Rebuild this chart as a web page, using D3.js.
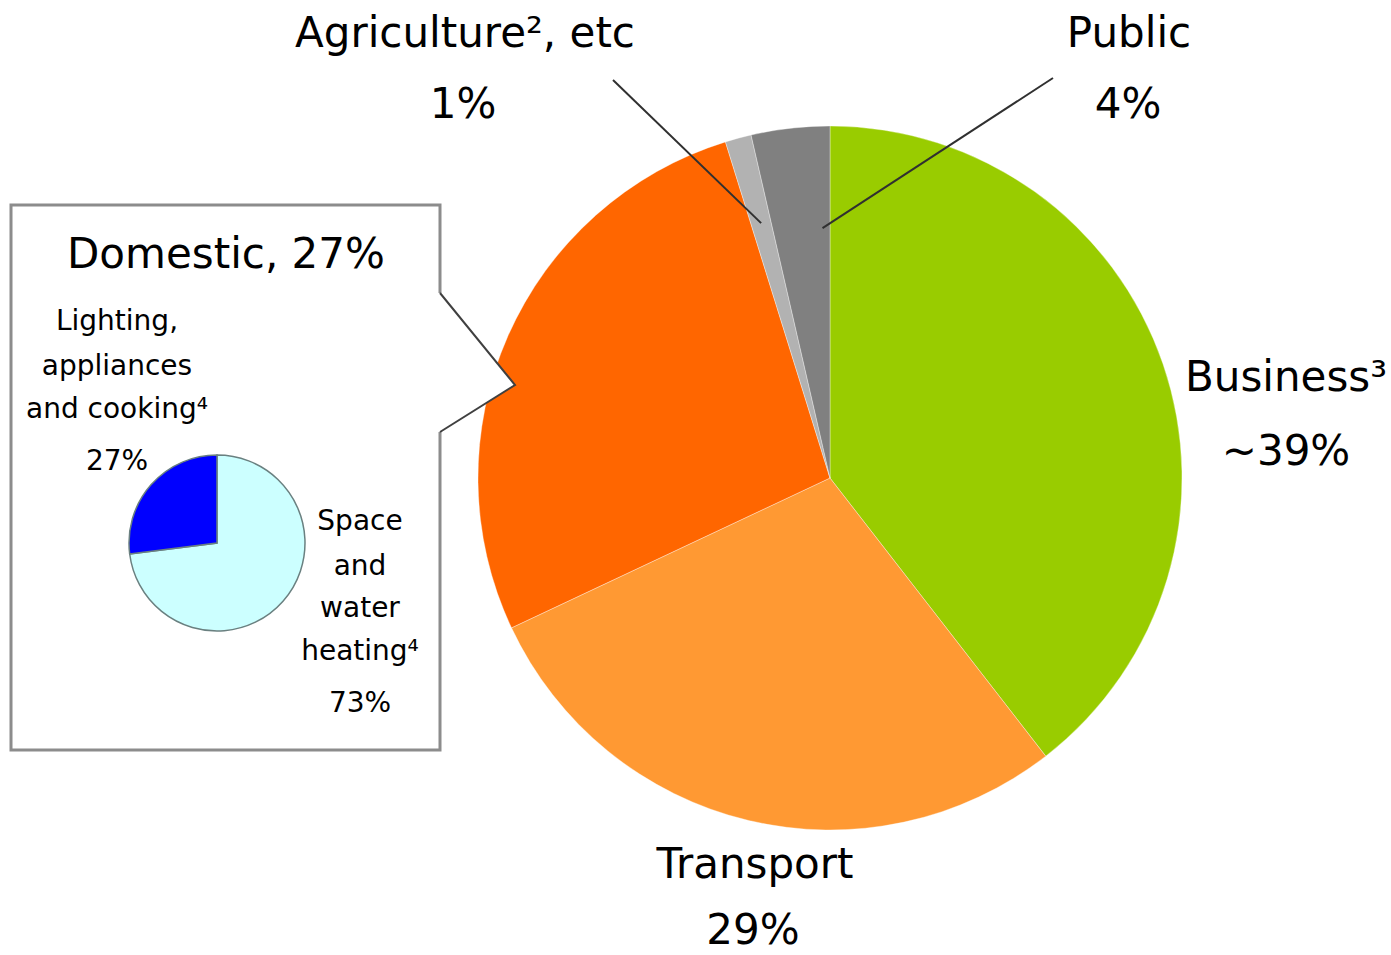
<html>
<style>
  body { margin: 0; background: #fff; font-family: "DejaVu Sans", Verdana, sans-serif; }
  .big { font-size: 42px; fill: #000; }
  .small { font-size: 28px; fill: #000; }
</style>
<script src="https://d3js.org/d3.v7.min.js"></script>
<body>
<svg id="chart" width="1391" height="955"></svg>
</body>
<script>
  // main pie: sectors clockwise from 12 o'clock
  const sectors = ["Business", "Transport", "Domestic", "Agriculture", "Public"];
  const shares = [39.5, 28.5, 27.2, 1.2, 3.6];
  const sectorColors = ["#99cc00", "#ff9933", "#ff6600", "#b2b2b2", "#808080"];
  const sectorLabels = [["Business³", "~39%"], ["Transport", "29%"], ["Domestic, 27%"],
                        ["Agriculture², etc", "1%"], ["Public", "4%"]];

  // domestic breakdown
  const uses = ["Space and water heating", "Lighting, appliances and cooking"];
  const useShares = [73, 27];
  const useColors = ["#ccffff", "#0000ff"];
  const useLabels = [["Space", "and", "water", "heating⁴", "73%"],
                     ["Lighting,", "appliances", "and cooking⁴", "27%"]];

  const svg = d3.select("#chart");

  // ---- main pie ----
  const cx = 830, cy = 478, r = 352;
  const pie = d3.pie().sort(null).value(d => d);
  const arcs = pie(shares);
  const arc = d3.arc().innerRadius(0).outerRadius(r);
  const g = svg.append("g").attr("transform", `translate(${cx},${cy})`);
  g.selectAll("path").data(arcs).enter().append("path")
      .attr("d", arc)
      .attr("fill", (d, i) => sectorColors[i])
      .attr("stroke", "#ffffff")
      .attr("stroke-opacity", 0.35)
      .attr("stroke-width", 1);

  // leader lines for the two thin slices
  function pt(a, rad) { return [cx + rad * Math.sin(a), cy - rad * Math.cos(a)]; }
  const agri = arcs[3], pub = arcs[4];
  const agriIn = pt((agri.startAngle + agri.endAngle) / 2, r * 0.75);
  const pubIn = pt(pub.endAngle - 0.03, r * 0.71);
  svg.append("line").attr("x1", 613).attr("y1", 80).attr("x2", agriIn[0]).attr("y2", agriIn[1])
      .attr("stroke", "#303030").attr("stroke-width", 2);
  svg.append("line").attr("x1", 1053).attr("y1", 78).attr("x2", pubIn[0]).attr("y2", pubIn[1])
      .attr("stroke", "#303030").attr("stroke-width", 2);

  // labels
  const labelPos = [[1286, 391, 1286, 465], [755, 878, 753, 944], null,
                    [465, 47, 463, 118], [1129, 47, 1128, 118]];
  labelPos.forEach((p, i) => {
    if (!p) return;
    svg.append("text").attr("class", "big").attr("text-anchor", "middle")
        .attr("x", p[0]).attr("y", p[1]).text(sectorLabels[i][0]);
    svg.append("text").attr("class", "big").attr("text-anchor", "middle")
        .attr("x", p[2]).attr("y", p[3]).text(sectorLabels[i][1]);
  });

  // ---- callout box for domestic ----
  const box = svg.append("g");
  box.append("path")
      .attr("d", "M11,205 L440,205 L440,293 L515,385 L440,432 L440,750 L11,750 Z")
      .attr("fill", "#ffffff").attr("stroke", "none");
  box.append("path")
      .attr("d", "M440,293 L440,205 L11,205 L11,750 L440,750 L440,432")
      .attr("fill", "none").attr("stroke", "#8c8c8c").attr("stroke-width", 3);
  box.append("path")
      .attr("d", "M440,293 L515,385 L440,432")
      .attr("fill", "none").attr("stroke", "#404040").attr("stroke-width", 2);

  svg.append("text").attr("class", "big").attr("text-anchor", "middle")
      .attr("x", 226).attr("y", 268).text(sectorLabels[2][0]);

  // inner pie
  const icx = 217, icy = 543, ir = 88;
  const innerArc = d3.arc().innerRadius(0).outerRadius(ir);
  const ig = svg.append("g").attr("transform", `translate(${icx},${icy})`);
  ig.selectAll("path").data(pie(useShares)).enter().append("path")
      .attr("d", innerArc)
      .attr("fill", (d, i) => useColors[i])
      .attr("stroke", "#6a8080")
      .attr("stroke-width", 1.5);

  const spaceY = [530, 575, 617, 660, 712];
  useLabels[0].forEach((t, i) => {
    svg.append("text").attr("class", "small").attr("text-anchor", "middle")
        .attr("x", 360).attr("y", spaceY[i]).text(t);
  });
  const lightY = [330, 375, 418, 470];
  useLabels[1].forEach((t, i) => {
    svg.append("text").attr("class", "small").attr("text-anchor", "middle")
        .attr("x", 117).attr("y", lightY[i]).text(t);
  });
</script>
</html>
